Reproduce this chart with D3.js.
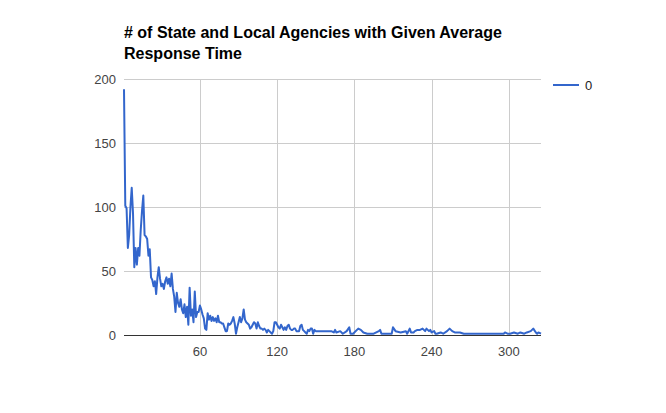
<!DOCTYPE html>
<html><head><meta charset="utf-8">
<script src="https://cdn.jsdelivr.net/npm/d3@7"></script>
<style>body{margin:0;background:#fff}svg{display:block}</style>
</head><body>
<script>
const titleLines = ["# of State and Local Agencies with Given Average", "Response Time"];
const seriesName = "0";
// counts for consecutive days 1..149
const earlyCounts = [192,101,99,68,78,100,115,95,53,68,55,68,62,82,97,109,78,77,75,62,67,45,43,38,42,32,45,53,44,38,40,36,42,45,40,44,38,48,36,30,18,33,25,22,28,20,17,24,14,22,8,37,15,20,10,34,14,18,18,23,20,16,13,5,4,17,12,15,11,14,11,13,10,15,
10,10,9,9,6,3,3,9,8,9,11,14,9,1,6,10,14,10,13,20,12,10,9,8,5,6,8,10,9,5,10,7,5,5,4,5,4,2,4,3,2,1,3,10,10,8,6,5,8,6,4,6,4,7,8,5,4,4,5,5,3,3,3,7,8,4,3,2,1,4,3,5,5,1,4];
const lateDays = [150,153,157,161,162,164,165,166,169,171,174,176,177,179,182,183,185,187,190,195,199,200,201,205,209,210,212,216,220,221,223,224,226,227,229,231,233,234,235,236,238,239,240,242,243,244,247,249,252,254,256,258,262,265,268,273,281,288,296,297,299,301,304,307,309,312,314,317,319,321,322,323,325];
const lateCounts = [3,3,3,3,3,2,4,2,3,1,3,6,1,1,4,5,4,2,1,1,3,4,1,1,1,6,3,2,3,1,5,2,2,3,4,4,5,4,3,5,3,4,2,3,1,1,2,1,3,5,3,2,2,1,1,1,1,1,1,2,1,1,2,1,2,1,2,3,5,2,1,2,1];
const xTicks = [60,120,180,240,300];
const yTicks = [0,50,100,150,200];

const data = earlyCounts.map((v,i)=>({x:i+1,y:v}))
  .concat(lateDays.map((d,i)=>({x:d,y:lateCounts[i]})));

const W=666,H=413;
const pLeft=124,pRight=541,pTop=79,pBottom=335;
const svg=d3.select("body").append("svg").attr("width",W).attr("height",H)
  .style("font-family","Arial, 'Liberation Sans', sans-serif");

const x=d3.scaleLinear().domain([1,325]).range([pLeft,pRight]);
const y=d3.scaleLinear().domain([0,200]).range([pBottom,pTop]);

// gridlines
svg.append("g").selectAll("line").data(yTicks.filter(t=>t>0)).join("line")
  .attr("x1",pLeft).attr("x2",pRight).attr("y1",d=>y(d)+0.5).attr("y2",d=>y(d)+0.5)
  .attr("stroke","#cccccc").attr("stroke-width",1);
svg.append("g").selectAll("line").data(xTicks).join("line")
  .attr("x1",d=>Math.round(x(d))+0.5).attr("x2",d=>Math.round(x(d))+0.5).attr("y1",pTop).attr("y2",pBottom)
  .attr("stroke","#cccccc").attr("stroke-width",1);

// y labels
svg.append("g").selectAll("text").data(yTicks).join("text")
  .attr("x",pLeft-8).attr("y",d=>y(d)+5).attr("text-anchor","end")
  .attr("font-size",13).attr("fill","#444").text(d=>d);
// x labels
svg.append("g").selectAll("text").data(xTicks).join("text")
  .attr("x",d=>x(d)).attr("y",pBottom+21).attr("text-anchor","middle")
  .attr("font-size",13).attr("fill","#444").text(d=>d);

// line
svg.append("path").datum(data)
  .attr("d",d3.line().x(d=>x(d.x)).y(d=>y(d.y)))
  .attr("fill","none").attr("stroke","#3366cc").attr("stroke-width",2).attr("stroke-linejoin","round");

// baseline
svg.append("line").attr("x1",pLeft).attr("x2",pRight).attr("y1",pBottom+0.5).attr("y2",pBottom+0.5)
  .attr("stroke","#333").attr("stroke-width",1);

// title
svg.append("g").selectAll("text").data(titleLines).join("text")
  .attr("x",124).attr("y",(d,i)=>38+i*21).attr("font-size",16).attr("font-weight","bold")
  .attr("fill","#000").text(d=>d);

// legend
svg.append("line").attr("x1",553).attr("x2",579).attr("y1",85).attr("y2",85)
  .attr("stroke","#3366cc").attr("stroke-width",2);
svg.append("text").attr("x",585).attr("y",90).attr("font-size",13).attr("fill","#222").text(seriesName);
</script>
</body></html>
